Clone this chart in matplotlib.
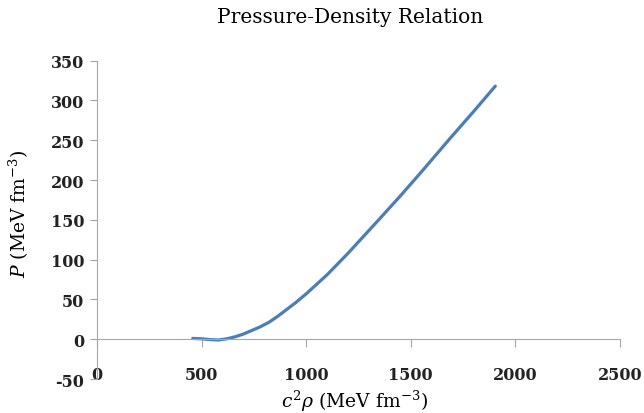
import numpy as np
import matplotlib.pyplot as plt

# energy density c^2 rho (MeV fm^-3) and pressure P (MeV fm^-3)
density = [458, 500, 540, 580, 620, 660, 700, 740, 780, 820, 860, 900, 950, 1000, 1100, 1200,
           1350, 1450, 1550, 1690, 1800, 1904]
pressure = [1, 0.5, -0.5, -1, 0.5, 3, 6.5, 11, 15.5, 21, 28, 36, 46, 57, 81, 108,
            151, 180, 210, 253, 286, 318]

xticks = [0, 500, 1000, 1500, 2000, 2500]
yticks = [-50, 0, 50, 100, 150, 200, 250, 300, 350]

plt.rcParams['font.family'] = 'DejaVu Serif'
plt.rcParams['mathtext.fontset'] = 'dejavuserif'
plt.rcParams['axes.unicode_minus'] = False

fig = plt.figure(figsize=(6.44, 4.14), dpi=100)
ax = fig.add_axes([0.1506, 0.0821, 0.8121, 0.7690])

ax.plot(density, pressure, color='#4A7EBB', linewidth=2.3,
        solid_capstyle='round', solid_joinstyle='round')

ax.set_xlim(0, 2500)
ax.set_ylim(-50, 350)
ax.set_xticks(xticks)
ax.set_yticks(yticks)

gray = '#A6A6A6'
for s in ['top', 'right']:
    ax.spines[s].set_visible(False)
ax.spines['left'].set_color(gray)
ax.spines['bottom'].set_color(gray)
ax.spines['bottom'].set_position(('data', 0))

ax.tick_params(axis='y', direction='out', length=5, color=gray, pad=4)
ax.tick_params(axis='x', direction='out', length=6, color=gray, pad=13)
for lab in ax.get_xticklabels() + ax.get_yticklabels():
    lab.set_fontsize(11.5)
    lab.set_fontweight('bold')
    lab.set_color('#222222')

fig.text(0.544, 0.957, 'Pressure-Density Relation', ha='center', va='center', fontsize=14.5)
fig.text(0.55, 0.03, r'$c^2\rho$ (MeV fm$^{-3}$)', ha='center', va='center', fontsize=13.5)
fig.text(0.03, 0.485, r'$P$ (MeV fm$^{-3}$)', ha='center', va='center', rotation=90, fontsize=13.5)

fig.savefig('out.png', dpi=100)
